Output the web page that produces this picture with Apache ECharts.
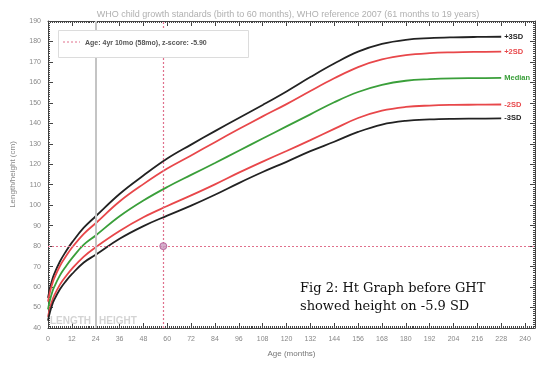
<!DOCTYPE html>
<html>
<head>
<meta charset="utf-8">
<script src="https://cdn.jsdelivr.net/npm/echarts@6/dist/echarts.min.js"></script>
<style>html,body{margin:0;padding:0;background:#fff}#c{width:545px;height:365px}</style>
</head>
<body>
<div id="c"></div>
<script>
const months = [0,1,2,3,6,9,12,18,24,36,48,60,72,84,96,108,120,132,144,156,168,180,192,204,216,228];
const plus3 = [54.7,59.5,63.2,66.1,72.5,77.4,81.7,89.0,94.6,105.5,114.5,122.8,129.6,136.2,142.6,149.0,155.6,162.6,169.2,175.0,178.8,180.8,181.6,182.0,182.2,182.3];
const plus2 = [52.9,57.6,61.1,64.0,70.3,75.0,79.2,86.0,91.2,101.8,110.3,117.9,124.3,130.8,137.2,143.4,149.4,155.8,162.0,167.5,171.2,173.3,174.3,174.7,174.9,175.0];
const median = [49.1,53.7,57.1,59.8,65.7,70.1,74.0,80.7,85.2,94.6,102.3,108.9,114.8,120.6,126.6,132.6,138.5,144.4,150.3,155.3,158.8,160.8,161.6,162.0,162.1,162.2];
const minus2 = [45.4,49.8,53.0,55.6,61.2,65.3,68.9,74.9,79.5,87.4,94.1,99.6,104.8,110.2,115.9,121.3,126.5,131.8,137.3,142.6,146.2,148.0,148.7,149.0,149.1,149.2];
const minus3 = [43.6,47.8,51.0,53.5,58.9,62.9,66.3,72.0,75.8,83.6,89.8,94.9,99.8,105.1,110.8,116.2,121.2,126.4,131.0,135.8,139.4,141.2,141.9,142.2,142.3,142.4];
const curveNames = ['+3SD','+2SD','Median','-2SD','-3SD'];
const curveColors = ['#222222','#e8474a','#3a9f3a','#e8474a','#222222'];
const xTicks = [0,12,24,36,48,60,72,84,96,108,120,132,144,156,168,180,192,204,216,228,240];
const yTicks = [40,50,60,70,80,90,100,110,120,130,140,150,160,170,180,190];
const patientAge = 58;
const patientHeight = 80;
const legendText = 'Age: 4yr 10mo (58mo), z-score: -5.90';
const titleText = 'WHO child growth standards (birth to 60 months), WHO reference 2007 (61 months to 19 years)';

const curves = [plus3, plus2, median, minus2, minus3];
const chart = echarts.init(document.getElementById('c'));
const axisCol = '#444';
const labCol = '#888';

const baseX = {
  type: 'value', min: 0, max: 245, interval: 12,
  axisLine: {show: true, onZero: false, lineStyle: {color: axisCol, width: 1}},
  axisTick: {show: true, inside: true, length: 5, lineStyle: {color: axisCol}},
  minorTick: {show: true, splitNumber: 12, length: 2, lineStyle: {color: axisCol}},
  splitLine: {show: false}
};
const baseY = {
  type: 'value', min: 40, max: 190, interval: 10,
  axisLine: {show: true, onZero: false, lineStyle: {color: axisCol, width: 1}},
  axisTick: {show: true, inside: true, length: 5, lineStyle: {color: axisCol}},
  minorTick: {show: true, splitNumber: 10, length: 2, lineStyle: {color: axisCol}},
  splitLine: {show: false}
};

const series = curves.map((arr, i) => ({
  type: 'line', name: curveNames[i],
  data: months.map((m, j) => [m, arr[j]]),
  showSymbol: false, smooth: 0.4,
  lineStyle: {color: curveColors[i], width: 1.8},
  itemStyle: {color: curveColors[i]},
  silent: true,
  endLabel: {show: true, formatter: curveNames[i], color: curveColors[i], fontSize: 7.5, fontWeight: 'bold', fontFamily: 'Liberation Sans', distance: 3}
}));

series.unshift({
  type: 'line', data: [], silent: true,
  markLine: {
    silent: true, symbol: 'none', label: {show: false},
    data: [{xAxis: 24, lineStyle: {color: '#c4c4c4', width: 2, type: 'solid'}}]
  }
});

series.push({
  type: 'scatter', name: legendText,
  data: [[patientAge, patientHeight]],
  symbolSize: 7,
  itemStyle: {color: '#c99bbf', borderColor: '#b0508e', borderWidth: 1},
  markLine: {
    silent: true, symbol: 'none', label: {show: false},
    lineStyle: {color: '#e0708c', width: 1.2, type: [2, 2]},
    data: [{xAxis: patientAge}, {yAxis: patientHeight}]
  },
  z: 5
});

chart.setOption({
  animation: false,
  title: {text: titleText, left: 283, top: 5, textAlign: 'center',
    textStyle: {fontSize: 9, fontWeight: 'normal', color: '#b0b0b0', fontFamily: 'Liberation Sans'}},
  grid: {left: 48, right: 10, top: 21, bottom: 37},
  xAxis: [
    Object.assign({}, baseX, {
      position: 'bottom',
      name: 'Age (months)', nameLocation: 'middle', nameGap: 22,
      nameTextStyle: {fontSize: 8, color: '#777', fontFamily: 'Liberation Sans'},
      axisLabel: {fontSize: 7, color: labCol, margin: 8, fontFamily: 'Liberation Sans',
        formatter: v => xTicks.indexOf(v) >= 0 ? String(v) : ''}
    }),
    Object.assign({}, baseX, {position: 'top', axisLabel: {show: false}})
  ],
  yAxis: [
    Object.assign({}, baseY, {
      position: 'left',
      name: 'Length/height (cm)', nameLocation: 'middle', nameGap: 31,
      nameTextStyle: {fontSize: 8, color: '#888', fontFamily: 'Liberation Sans'},
      axisLabel: {fontSize: 7, color: labCol, margin: 7, fontFamily: 'Liberation Sans',
        formatter: v => yTicks.indexOf(v) >= 0 ? String(v) : ''}
    }),
    Object.assign({}, baseY, {position: 'right', axisLabel: {show: false}})
  ],
  series: series,
  graphic: [
    {type: 'rect', left: 58, top: 30, shape: {width: 190, height: 27},
      style: {fill: '#fff', stroke: '#dcdcdc', lineWidth: 1}, z: 100},
    {type: 'line', shape: {x1: 63, y1: 42, x2: 80, y2: 42},
      style: {stroke: '#e0708c', lineWidth: 1, lineDash: [2, 2]}, z: 101},
    {type: 'text', left: 85, top: 40,
      style: {text: legendText, fontSize: 7, fontWeight: 'bold', fill: '#555', fontFamily: 'Liberation Sans'}, z: 101},
    {type: 'text', x: 91, y: 316, style: {text: 'LENGTH', align: 'right', fontSize: 10, fontWeight: 'bold', fill: '#d4d4d4', fontFamily: 'Liberation Sans'}, z: 1},
    {type: 'text', x: 99, y: 316, style: {text: 'HEIGHT', align: 'left', fontSize: 10, fontWeight: 'bold', fill: '#d4d4d4', fontFamily: 'Liberation Sans'}, z: 1},
    {type: 'text', x: 300, y: 282, style: {text: 'Fig 2: Ht Graph before GHT', fontSize: 13, fill: '#111', fontFamily: 'DejaVu Serif'}, z: 101},
    {type: 'text', x: 300, y: 300, style: {text: 'showed height on -5.9 SD', fontSize: 13, fill: '#111', fontFamily: 'DejaVu Serif'}, z: 101}
  ]
});
</script>
</body>
</html>
